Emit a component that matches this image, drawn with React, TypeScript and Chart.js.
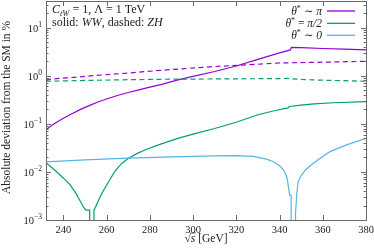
import React, { useEffect, useRef } from 'react';
import { Chart, registerables } from 'chart.js';
Chart.register(...registerables);

// ---------- data ----------
const xTicks = [240, 260, 280, 300, 320, 340, 360, 380];
const yTickExps = [-3, -2, -1, 0, 1];
const X_MIN = 232;
const X_MAX = 380;
const Y_MIN = 1e-3;
const Y_MAX = 36;

// WW, theta* ~ pi (solid purple)
const wwPiX = [232, 234, 236, 240, 244, 248, 252, 256, 260, 265, 270, 275, 280, 286, 293, 300, 310, 320, 330, 340, 345, 345.5, 350, 360, 370, 380];
const wwPiY = [0.075, 0.088, 0.102, 0.131, 0.163, 0.2, 0.24, 0.285, 0.33, 0.39, 0.45, 0.51, 0.58, 0.67, 0.82, 0.97, 1.23, 1.6, 2.2, 3.0, 3.45, 3.9, 3.85, 3.7, 3.6, 3.45];

// ZH, theta* ~ pi (dashed purple)
const zhPiX = [232, 245, 258, 270, 285, 295, 310, 330, 340, 360, 380];
const zhPiY = [0.84, 0.93, 1.04, 1.14, 1.3, 1.4, 1.56, 1.74, 1.85, 1.92, 2.0];

// WW, theta* = pi/2 (solid green)
const wwHalfX = [232, 236, 240, 243, 246, 248, 249.5, 250.5, 252.2, 252.2, 254.2, 254.2, 255, 256, 258, 260, 262, 264, 267, 270, 274, 278, 285, 293, 300, 310, 320, 330, 338, 344, 344.5, 350, 356, 365, 380];
const wwHalfY = [0.0155, 0.011, 0.0075, 0.0055, 0.0035, 0.0024, 0.0018, 0.0016, 0.0016, 0.0002, 0.0002, 0.0016, 0.0019, 0.0024, 0.0037, 0.0053, 0.0075, 0.0105, 0.015, 0.019, 0.024, 0.029, 0.038, 0.05, 0.061, 0.08, 0.108, 0.155, 0.19, 0.215, 0.23, 0.245, 0.26, 0.275, 0.29];

// ZH, theta* = pi/2 (dashed green)
const zhHalfX = [232, 250, 270, 290, 310, 330, 344, 350, 360, 370, 380];
const zhHalfY = [0.77, 0.8, 0.83, 0.85, 0.86, 0.87, 0.88, 0.84, 0.81, 0.79, 0.77];

// WW, theta* ~ 0 (solid blue)
const wwZeroX = [232, 250, 270, 290, 310, 320, 328, 334, 337, 340, 342, 343.5, 344.7, 345.4, 345.4, 347.4, 347.4, 348, 348.6, 349.7, 352, 355.6, 360, 363.4, 371, 380];
const wwZeroY = [0.0162, 0.0178, 0.0193, 0.0206, 0.0215, 0.0218, 0.021, 0.0185, 0.0165, 0.0135, 0.0108, 0.0075, 0.0033, 0.0033, 0.0002, 0.0002, 0.0014, 0.0036, 0.0062, 0.008, 0.011, 0.0152, 0.021, 0.0265, 0.0365, 0.05];

const legendRel = ['∼', '=', '∼'];
const legendVal = ['π', 'π/2', '0'];

const PURPLE = '#9400d3';
const GREEN = '#009e73';
const BLUE = '#56b4e9';
const AXIS = '#6a6a6a';
const TEXT = '#222222';
const SERIF = '"Liberation Serif", "DejaVu Serif", serif';

type Part = { t: string; font: string; dy?: number };

function drawParts(ctx: CanvasRenderingContext2D, parts: Part[], x: number, y: number, align: 'left' | 'right' | 'center') {
  ctx.save();
  ctx.textAlign = 'left';
  ctx.textBaseline = 'alphabetic';
  let total = 0;
  const widths = parts.map((p) => {
    ctx.font = p.font;
    const w = ctx.measureText(p.t).width;
    total += w;
    return w;
  });
  let cx = align === 'left' ? x : align === 'right' ? x - total : x - total / 2;
  parts.forEach((p, i) => {
    ctx.font = p.font;
    ctx.fillText(p.t, cx, y + (p.dy || 0));
    cx += widths[i];
  });
  ctx.restore();
  return total;
}

function toPts(xs: number[], ys: number[]) {
  return xs.map((v, i) => ({ x: v, y: ys[i] }));
}

const decor = {
  id: 'decor',
  afterDraw(chart: any) {
    const ctx: CanvasRenderingContext2D = chart.ctx;
    const { left, right, top, bottom } = chart.chartArea;
    const xs = chart.scales.x;
    const ys = chart.scales.y;
    ctx.save();
    // frame
    ctx.strokeStyle = AXIS;
    ctx.lineWidth = 1;
    ctx.strokeRect(Math.round(left) + 0.5, Math.round(top) + 0.5, Math.round(right - left), Math.round(bottom - top));
    // x ticks
    ctx.beginPath();
    xTicks.forEach((v) => {
      const px = Math.round(xs.getPixelForValue(v)) + 0.5;
      ctx.moveTo(px, bottom);
      ctx.lineTo(px, bottom - 5);
      ctx.moveTo(px, top);
      ctx.lineTo(px, top + 5);
    });
    // y ticks (major and minor)
    yTickExps.forEach((e) => {
      for (let m = 1; m <= 9; m++) {
        const v = m * Math.pow(10, e);
        if (v < Y_MIN || v > Y_MAX) continue;
        const py = Math.round(ys.getPixelForValue(v)) + 0.5;
        const len = m === 1 ? 5 : 2.5;
        ctx.moveTo(left, py);
        ctx.lineTo(left + len, py);
        ctx.moveTo(right, py);
        ctx.lineTo(right - len, py);
      }
    });
    ctx.stroke();

    ctx.fillStyle = TEXT;
    // x tick labels
    xTicks.forEach((v) => {
      const px = xs.getPixelForValue(v);
      drawParts(ctx, [{ t: String(v), font: `10.5px ${SERIF}` }], px, bottom + 13, 'center');
    });
    // y tick labels
    yTickExps.forEach((e) => {
      const py = ys.getPixelForValue(Math.pow(10, e));
      const ex = e < 0 ? '−' + Math.abs(e) : String(e);
      drawParts(ctx, [
        { t: '10', font: `10.5px ${SERIF}` },
        { t: ex, font: `7.5px ${SERIF}`, dy: -5 },
      ], left - 4, py + 4, 'right');
    });

    // x axis title
    const xt = (left + right) / 2;
    const tb = 242;
    const w = drawParts(ctx, [
      { t: '√', font: `11.5px ${SERIF}` },
      { t: 's', font: `italic 11.5px ${SERIF}` },
      { t: ' [GeV]', font: `11.5px ${SERIF}` },
    ], xt, tb, 'center');
    ctx.font = `11.5px ${SERIF}`;
    const rw = ctx.measureText('√').width;
    ctx.font = `italic 11.5px ${SERIF}`;
    const sw = ctx.measureText('s').width;
    const sx = xt - w / 2 + rw;
    ctx.beginPath();
    ctx.strokeStyle = TEXT;
    ctx.lineWidth = 0.7;
    ctx.moveTo(sx - 0.5, tb - 9);
    ctx.lineTo(sx + sw + 0.5, tb - 9);
    ctx.stroke();

    // y axis title
    ctx.save();
    ctx.translate(10, (top + bottom) / 2 - 3);
    ctx.rotate(-Math.PI / 2);
    ctx.font = `11.5px ${SERIF}`;
    ctx.textAlign = 'center';
    ctx.textBaseline = 'alphabetic';
    ctx.fillText('Absolute deviation from the SM in %', 0, 0);
    ctx.restore();

    // annotation (top left)
    drawParts(ctx, [
      { t: 'C', font: `italic 12px ${SERIF}` },
      { t: 'tW', font: `italic 8.5px ${SERIF}`, dy: 2.5 },
      { t: ' = 1, Λ = 1 TeV', font: `12px ${SERIF}` },
    ], left + 6, 13, 'left');
    drawParts(ctx, [
      { t: 'solid: ', font: `12px ${SERIF}` },
      { t: 'WW', font: `italic 12px ${SERIF}` },
      { t: ', dashed: ', font: `12px ${SERIF}` },
      { t: 'ZH', font: `italic 12px ${SERIF}` },
    ], left + 6, 26, 'left');

    // legend (top right)
    const colors = [PURPLE, GREEN, BLUE];
    const rowY = [11, 23.3, 35.3];
    colors.forEach((c, i) => {
      drawParts(ctx, [
        { t: 'θ', font: `italic 11.5px ${SERIF}` },
        { t: '*', font: `8px ${SERIF}`, dy: -4 },
        { t: ' ' + legendRel[i] + ' ', font: `11.5px ${SERIF}` },
        { t: legendVal[i], font: `italic 11.5px ${SERIF}` },
      ], right - 44, rowY[i] + 4, 'right');
      ctx.beginPath();
      ctx.strokeStyle = c;
      ctx.lineWidth = 1.3;
      ctx.moveTo(right - 39, rowY[i]);
      ctx.lineTo(right - 11, rowY[i]);
      ctx.stroke();
    });
    ctx.restore();
  },
};

export default function App() {
  const ref = useRef<HTMLCanvasElement | null>(null);
  useEffect(() => {
    if (!ref.current) return;
    const mk = (xs: number[], yv: number[], color: string, dashed: boolean) => ({
      data: toPts(xs, yv),
      borderColor: color,
      backgroundColor: color,
      borderWidth: 1.2,
      borderDash: dashed ? [5, 3.5] : [],
      pointRadius: 0,
      tension: 0,
      fill: false,
    });
    const chart = new Chart(ref.current, {
      type: 'line',
      data: {
        datasets: [
          mk(zhHalfX, zhHalfY, GREEN, true),
          mk(zhPiX, zhPiY, PURPLE, true),
          mk(wwZeroX, wwZeroY, BLUE, false),
          mk(wwHalfX, wwHalfY, GREEN, false),
          mk(wwPiX, wwPiY, PURPLE, false),
        ] as any,
      },
      options: {
        animation: false,
        responsive: false,
        devicePixelRatio: 1,
        layout: { padding: { left: 46, right: 8, top: 1, bottom: 31 } },
        plugins: { legend: { display: false }, tooltip: { enabled: false } },
        scales: {
          x: { type: 'linear', min: X_MIN, max: X_MAX, display: false },
          y: { type: 'logarithmic', min: Y_MIN, max: Y_MAX, display: false },
        },
      },
      plugins: [decor],
    });
    return () => chart.destroy();
  }, []);
  return (
    <div style={{ position: 'absolute', left: 0, top: 0, width: 374, height: 251, background: '#fff' }}>
      <canvas ref={ref} width={374} height={251} />
    </div>
  );
}
